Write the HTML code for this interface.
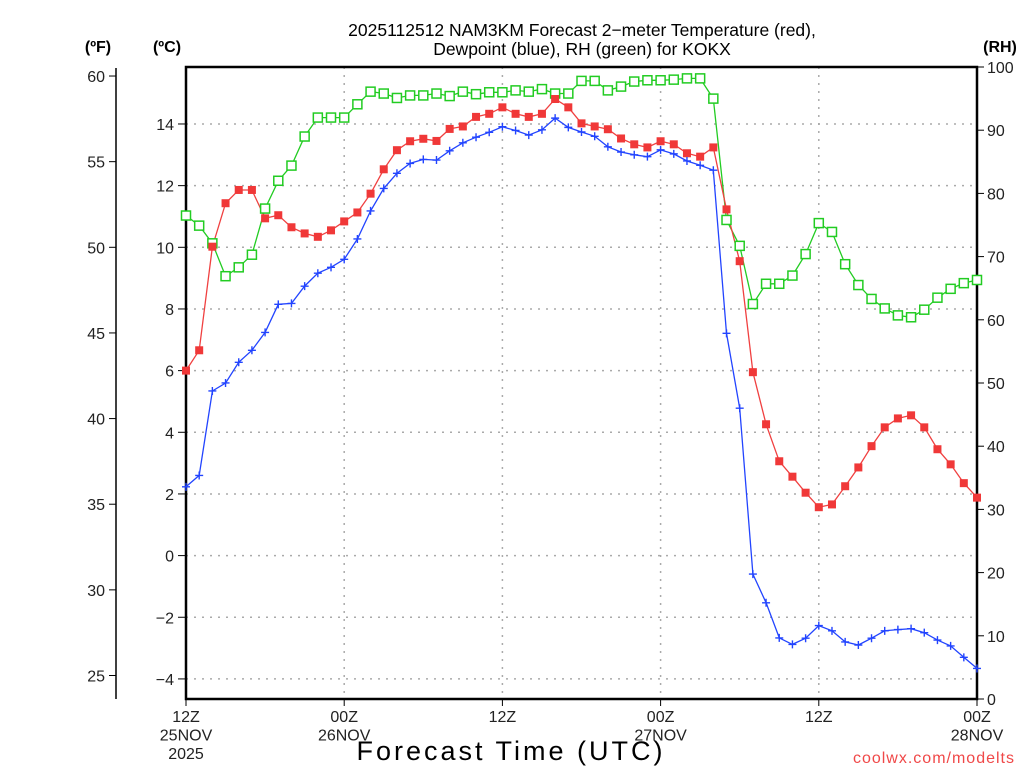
<!DOCTYPE html>
<html><head><meta charset="utf-8"><style>
html,body{margin:0;padding:0;background:#fff;}
svg{display:block;font-family:"Liberation Sans",sans-serif;}
</style></head><body>
<svg id="chart" width="1024" height="768" viewBox="0 0 1024 768" xmlns="http://www.w3.org/2000/svg">
<g font-size="17.5" text-anchor="middle" fill="#000">
<text x="582" y="36">2025112512 NAM3KM Forecast 2−meter Temperature (red),</text>
<text x="582" y="55">Dewpoint (blue), RH (green) for KOKX</text>
</g>
<text x="98" y="52" font-size="16" font-weight="bold" text-anchor="middle">(ºF)</text>
<text x="167" y="52" font-size="16" font-weight="bold" text-anchor="middle">(ºC)</text>
<text x="1000" y="52" font-size="16" font-weight="bold" text-anchor="middle">(RH)</text>
<g id="grid"></g>
<g id="axes"></g>
<g id="series"></g>
<text x="511" y="760" font-size="27" text-anchor="middle" letter-spacing="3">Forecast Time (UTC)</text>
<text x="1015" y="763" font-size="16" fill="#f04848" text-anchor="end" letter-spacing="1">coolwx.com/modelts</text>
</svg>
<script>
const tempC = [6.0,6.66,10.02,11.43,11.86,11.86,10.94,11.04,10.65,10.45,10.34,10.55,10.84,11.13,11.74,12.53,13.15,13.44,13.52,13.45,13.84,13.92,14.23,14.33,14.54,14.33,14.23,14.33,14.81,14.54,14.02,13.92,13.83,13.53,13.34,13.24,13.44,13.34,13.05,12.94,13.24,11.23,9.55,5.95,4.26,3.06,2.56,2.04,1.57,1.66,2.25,2.86,3.55,4.16,4.45,4.55,4.16,3.45,2.96,2.35,1.88];
const dewC = [2.23,2.6,5.34,5.6,6.27,6.66,7.24,8.15,8.18,8.74,9.16,9.35,9.61,10.27,11.18,11.91,12.4,12.72,12.85,12.83,13.13,13.39,13.57,13.73,13.91,13.79,13.64,13.81,14.19,13.89,13.74,13.6,13.26,13.09,13.0,12.94,13.16,13.03,12.8,12.66,12.5,7.21,4.78,-0.6,-1.53,-2.67,-2.88,-2.68,-2.27,-2.44,-2.8,-2.9,-2.68,-2.44,-2.4,-2.37,-2.5,-2.74,-2.93,-3.3,-3.66];
const rh = [76.5,74.9,72.1,66.9,68.3,70.3,77.6,82.0,84.4,89.0,92.0,92.0,92.0,94.1,96.1,95.8,95.1,95.5,95.5,95.8,95.4,96.1,95.7,96.0,96.0,96.3,96.1,96.5,95.8,95.8,97.8,97.8,96.3,96.9,97.7,97.9,97.9,98.0,98.2,98.2,95.0,75.8,71.7,62.5,65.7,65.7,67.0,70.4,75.3,73.9,68.8,65.5,63.3,61.8,60.7,60.4,61.6,63.5,64.9,65.8,66.3];
const cTicks = [-4,-2,0,2,4,6,8,10,12,14];
const fTicks = [25,30,35,40,45,50,55,60];
const rhTicks = [0,10,20,30,40,50,60,70,80,90,100];
const timeTickHours = [0,12,24,36,48,60];
const timeLabels = [["12Z","25NOV","2025"],["00Z","26NOV"],["12Z"],["00Z","27NOV"],["12Z"],["00Z","28NOV"]];

const L=186,R=977,T=67,B=699;
const xH = h => L + h*(R-L)/60;
const yC = c => 555.6 - c*30.83;
const yF = f => yC((f-32)*5/9);
const yRH = v => B - v*(B-T)/100;
const NS="http://www.w3.org/2000/svg";
function mk(tag, attrs, parent){const e=document.createElementNS(NS,tag);for(const k in attrs)e.setAttribute(k,attrs[k]);parent.appendChild(e);return e;}
const grid=document.getElementById('grid'), axes=document.getElementById('axes'), series=document.getElementById('series');

cTicks.forEach(c=>{
  const y=yC(c);
  const g=mk('line',{x1:L,x2:R,y1:y,y2:y,stroke:'#aaa','stroke-width':1.5,'stroke-dasharray':'2,6'},grid);
  
  
  const t=mk('line',{x1:L-8,x2:L,y1:y,y2:y,stroke:'#000','stroke-width':1},axes);
  
  
  const tx=mk('text',{x:L-12,y:y+6,'font-size':16,'text-anchor':'end',fill:'#222'},axes);
  tx.textContent = c<0 ? '−'+Math.abs(c) : String(c);
  
  
});
timeTickHours.forEach((h,i)=>{
  const x=xH(h);
  if(h>0&&h<60){const g=mk('line',{x1:x,x2:x,y1:T,y2:B,stroke:'#aaa','stroke-width':1.5,'stroke-dasharray':'2,6'},grid);
  
  }
  const t=mk('line',{x1:x,x2:x,y1:B,y2:B+7,stroke:'#000','stroke-width':1},axes);
  
  
  timeLabels[i].forEach((s,j)=>{
    const tx=mk('text',{x:x,y:B+23+j*18.5,'font-size':16,'text-anchor':'middle',fill:'#222'},axes);
    tx.textContent=s;
    
    
  });
});
const fl=mk('line',{x1:116,x2:116,y1:68,y2:B,stroke:'#000','stroke-width':1.5},axes);


fTicks.forEach(f=>{
  const y=yF(f);
  const t=mk('line',{x1:109,x2:116,y1:y,y2:y,stroke:'#000','stroke-width':1},axes);
  
  
  const tx=mk('text',{x:105,y:y+6,'font-size':16,'text-anchor':'end',fill:'#222'},axes);
  tx.textContent=String(f);
  
  
});
rhTicks.forEach(v=>{
  const y=yRH(v);
  const t=mk('line',{x1:R,x2:R+7,y1:y,y2:y,stroke:'#000','stroke-width':1},axes);
  
  
  const tx=mk('text',{x:R+10,y:y+6,'font-size':16,'text-anchor':'start',fill:'#222'},axes);
  tx.textContent=String(v);
  
  
});
const fr=mk('path',{d:`M${L},${B} L${L},${T} L${R},${T} L${R},${B} Z`,fill:'none',stroke:'#000','stroke-width':2.5},axes);



function drawLine(vals,yf,color,name){
  const pts=vals.map((v,i)=>xH(i).toFixed(1)+','+yf(v).toFixed(1)).join(' ');
  const pl=mk('polyline',{points:pts,fill:'none',stroke:color,'stroke-width':1.3},series);
  
  
}
drawLine(rh,yRH,'#22cc22','rh');
drawLine(tempC,yC,'#f04040','temperature');
drawLine(dewC,yC,'#2244ff','dewpoint');
rh.forEach((v,i)=>{
  const r=mk('rect',{x:xH(i)-4.5,y:yRH(v)-4.5,width:9,height:9,fill:'#fff',stroke:'#22cc22','stroke-width':1.5},series);
  
  
});
tempC.forEach((v,i)=>{
  const r=mk('rect',{x:xH(i)-4,y:yC(v)-4,width:8,height:8,fill:'#f03838'},series);
  
  
});
dewC.forEach((v,i)=>{
  const x=xH(i),y=yC(v);
  const p=mk('path',{d:`M${x-4},${y} H${x+4} M${x},${y-4} V${y+4}`,stroke:'#2244ff','stroke-width':1.4},series);
  
  
});
</script>
</body></html>
